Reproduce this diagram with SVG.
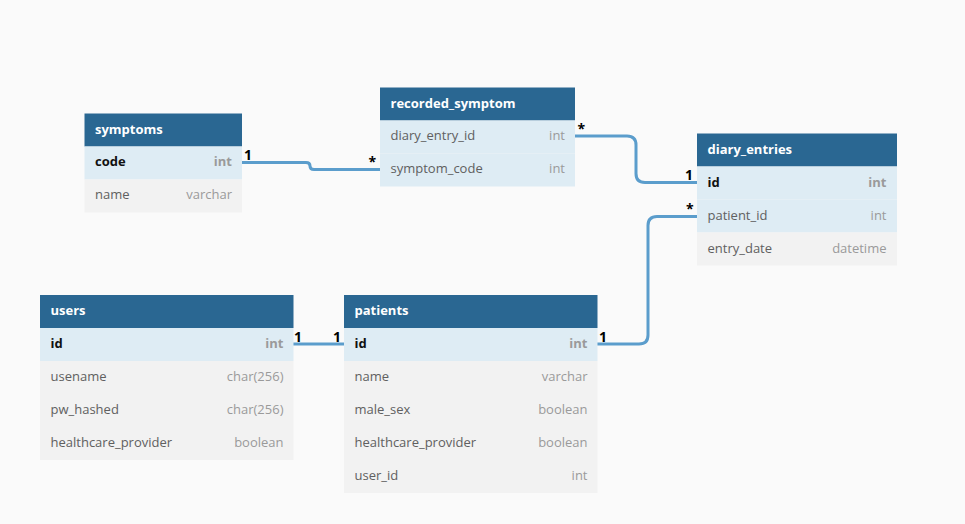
<svg xmlns="http://www.w3.org/2000/svg" width="965" height="524" viewBox="0 0 965 524">
<style>
.bg{fill:#fafafa}
.hdr{fill:#2a6792}
.key{fill:#deecf4}
.row{fill:#f2f2f2}
.title{font-family:"Open Sans","Liberation Sans",sans-serif;font-size:13px;font-weight:bold;fill:#ffffff}
.fk{font-family:"Open Sans","Liberation Sans",sans-serif;font-size:13px;font-weight:bold;fill:#111111}
.fn{font-family:"Open Sans","Liberation Sans",sans-serif;font-size:13px;fill:#606060}
.tk{font-family:"Open Sans","Liberation Sans",sans-serif;font-size:13px;font-weight:bold;fill:#9a9a9a;text-anchor:end}
.tn{font-family:"Open Sans","Liberation Sans",sans-serif;font-size:13px;fill:#9a9a9a;text-anchor:end}
.conn{fill:none;stroke:#5b9dcc;stroke-width:3}
.lbl{font-family:"Open Sans","Liberation Sans",sans-serif;font-size:14px;font-weight:bold;fill:#000000}
</style>
<rect class="bg" x="0" y="0" width="965" height="524"/>

<g id="connectors">
<path class="conn" d="M242,162.5 H306 Q310,162.5 310,166 Q310,169.5 314,169.5 H380"/>
<path class="conn" d="M575,136 H627 Q636,136 636,145 V173.5 Q636,182.5 645,182.5 H697"/>
<path class="conn" d="M597,344 H639 Q648,344 648,335 V225.5 Q648,216.5 657,216.5 H697"/>
<path class="conn" d="M293,344 H344"/>
<text class="lbl" x="244" y="160">1</text>
<text class="lbl" x="368.5" y="167">*</text>
<text class="lbl" x="577.5" y="134">*</text>
<text class="lbl" x="685" y="180">1</text>
<text class="lbl" x="686" y="213.5">*</text>
<text class="lbl" x="599" y="342">1</text>
<text class="lbl" x="294" y="342">1</text>
<text class="lbl" x="333" y="342">1</text>
</g>

<g id="symptoms">
<rect class="hdr" x="84.5" y="113.5" width="157.5" height="33"/>
<rect class="key" x="84.5" y="146.5" width="157.5" height="33"/>
<rect class="row" x="84.5" y="179.5" width="157.5" height="33"/>
<text class="title" x="95" y="133.5">symptoms</text>
<text class="fk" x="95" y="166">code</text>
<text class="tk" x="232" y="166">int</text>
<text class="fn" x="95" y="199">name</text>
<text class="tn" x="232" y="199">varchar</text>
</g>

<g id="recorded_symptom">
<rect class="hdr" x="380" y="87.5" width="195" height="33"/>
<rect class="key" x="380" y="120.5" width="195" height="33"/>
<rect class="key" x="380" y="153.5" width="195" height="33"/>
<text class="title" x="390.5" y="107.5">recorded_symptom</text>
<text class="fn" x="390.5" y="140">diary_entry_id</text>
<text class="tn" x="565" y="140">int</text>
<text class="fn" x="390.5" y="173">symptom_code</text>
<text class="tn" x="565" y="173">int</text>
</g>

<g id="diary_entries">
<rect class="hdr" x="697" y="133.5" width="200" height="33"/>
<rect class="key" x="697" y="166.5" width="200" height="33"/>
<rect class="key" x="697" y="199.5" width="200" height="33"/>
<rect class="row" x="697" y="232.5" width="200" height="33"/>
<text class="title" x="707.5" y="154">diary_entries</text>
<text class="fk" x="707.5" y="186.5">id</text>
<text class="tk" x="886.5" y="186.5">int</text>
<text class="fn" x="707.5" y="219.5">patient_id</text>
<text class="tn" x="886.5" y="219.5">int</text>
<text class="fn" x="707.5" y="252.5">entry_date</text>
<text class="tn" x="886.5" y="252.5">datetime</text>
</g>

<g id="users">
<rect class="hdr" x="40" y="295" width="253.5" height="33"/>
<rect class="key" x="40" y="328" width="253.5" height="33"/>
<rect class="row" x="40" y="361" width="253.5" height="99"/>
<text class="title" x="50.5" y="315">users</text>
<text class="fk" x="50.5" y="348">id</text>
<text class="tk" x="283.5" y="348">int</text>
<text class="fn" x="50.5" y="381">usename</text>
<text class="tn" x="283.5" y="381">char(256)</text>
<text class="fn" x="50.5" y="414">pw_hashed</text>
<text class="tn" x="283.5" y="414">char(256)</text>
<text class="fn" x="50.5" y="447">healthcare_provider</text>
<text class="tn" x="283.5" y="447">boolean</text>
</g>

<g id="patients">
<rect class="hdr" x="344" y="295" width="253.5" height="33"/>
<rect class="key" x="344" y="328" width="253.5" height="33"/>
<rect class="row" x="344" y="361" width="253.5" height="132"/>
<text class="title" x="354.5" y="315">patients</text>
<text class="fk" x="354.5" y="348">id</text>
<text class="tk" x="587.5" y="348">int</text>
<text class="fn" x="354.5" y="381">name</text>
<text class="tn" x="587.5" y="381">varchar</text>
<text class="fn" x="354.5" y="414">male_sex</text>
<text class="tn" x="587.5" y="414">boolean</text>
<text class="fn" x="354.5" y="447">healthcare_provider</text>
<text class="tn" x="587.5" y="447">boolean</text>
<text class="fn" x="354.5" y="480">user_id</text>
<text class="tn" x="587.5" y="480">int</text>
</g>
</svg>
